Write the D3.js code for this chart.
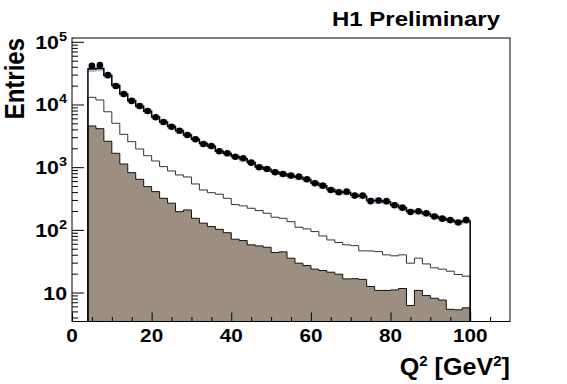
<!DOCTYPE html>
<html>
<head>
<meta charset="utf-8">
<script src="https://cdn.jsdelivr.net/npm/d3@7"></script>
<style>
  body { margin: 0; background: #fff; }
  text { font-family: "Liberation Sans", Arial, sans-serif; font-weight: bold; fill: #000; }
</style>
</head>
<body>
<div id="chart"></div>
<script>
// ---- data: Q2 histogram, 2 GeV2 bins from 4 to 100 ----
const binEdges = d3.range(4, 101, 2);

// data points (black dots)
const dataCounts = [41500, 42500, 29400, 19700, 14700, 11400, 9450, 7860, 6240, 5250, 4410, 3815,
  3260, 2790, 2345, 2180, 1790, 1665, 1470, 1385, 1180, 995, 935, 830,
  780, 733, 706, 641, 554, 507, 433, 398, 407, 352, 352, 287,
  293, 287, 247, 226, 193, 198, 184, 163, 151, 143, 131, 144];

// total MC (black line with light blue band)
const mcTotal = [36800, 37500, 29000, 20000, 14700, 11500, 9400, 7800, 6300, 5250, 4450, 3800,
  3250, 2800, 2380, 2150, 1800, 1650, 1480, 1360, 1190, 1010, 930, 840,
  775, 725, 690, 635, 560, 505, 440, 405, 395, 355, 345, 295,
  290, 280, 250, 225, 198, 195, 180, 165, 152, 142, 133, 138];
const mcRelErr = 0.1;

// middle component (thin line)
const mcMiddle = [13000, 11800, 7650, 5010, 3340, 2550, 1950, 1525, 1255, 1020, 870, 751,
  698, 540, 433, 392, 370, 319, 253, 241, 221, 203, 184, 159,
  153, 135, 110, 103.5, 93.8, 80, 69, 62.7, 57.6, 56, 46.2, 46,
  45, 39.9, 38.5, 39.9, 29.4, 35.3, 28.6, 24.8, 23.6, 21.9, 19.4, 18.2];

// filled component (brown)
const mcFilled = [4540, 4110, 2590, 1667, 1125, 817, 641, 489, 407, 319, 266, 195,
  208, 153, 128, 113, 102, 90, 71, 67.4, 57.6, 55.5, 52.8, 43.4,
  44.6, 35.3, 29.4, 26.9, 23.6, 22.4, 21.1, 19.6, 16.5, 16.6, 16.2, 12.5,
  10.8, 10.8, 11.0, 11.6, 6.2, 10.8, 8.95, 8.1, 7.6, 5.4, 5.3, 5.7];

const xMajorTicks = [0, 20, 40, 60, 80, 100];
const xMinorTicks = [5, 10, 15, 25, 30, 35, 45, 50, 55, 65, 70, 75, 85, 90, 95, 105];
const yDecades = [10, 100, 1000, 10000, 100000];
const yDecadeExp = [1, 2, 3, 4, 5];

// ---- layout ----
const svgWidth = 567;
const svgHeight = 384;
const margin = {top: 38, right: 57, bottom: 62.5, left: 72};
const chartWidth = svgWidth - margin.left - margin.right;
const chartHeight = svgHeight - margin.top - margin.bottom;
const stretch = 1.12; // the original fonts are a bit wider than tall

const svg = d3.select("#chart")
  .append("svg")
  .attr("width", svgWidth)
  .attr("height", svgHeight);

const chartGroup = svg.append("g")
  .attr("transform", `translate(${margin.left},${margin.top})`);

const xScale = d3.scaleLinear()
  .domain([0, 110])
  .range([0, chartWidth]);

const yScale = d3.scaleLog()
  .domain([3.45, 1.15e5])
  .range([chartHeight, 0]);

// histogram helpers: one point per bin plus the closing edge
function stepPoints(vals) {
  const pts = vals.map((v, i) => [binEdges[i], v]);
  pts.push([binEdges[binEdges.length - 1], vals[vals.length - 1]]);
  return pts;
}
const yMin = yScale.domain()[0];

const stepLine = d3.line()
  .x(d => xScale(d[0]))
  .y(d => yScale(d[1]))
  .curve(d3.curveStepAfter);

function closedStep(vals) {
  const pts = stepPoints(vals);
  return [[pts[0][0], yMin]].concat(pts, [[pts[pts.length - 1][0], yMin]]);
}

// filled brown component
const fillArea = d3.area()
  .x(d => xScale(d[0]))
  .y0(chartHeight)
  .y1(d => yScale(d[1]))
  .curve(d3.curveStepAfter);

chartGroup.append("path")
  .datum(stepPoints(mcFilled))
  .attr("d", fillArea)
  .attr("fill", "#9c8f82");

chartGroup.append("path")
  .datum(closedStep(mcFilled))
  .attr("d", stepLine)
  .attr("fill", "none")
  .attr("stroke", "#111")
  .attr("stroke-width", 1);

// middle component line
chartGroup.append("path")
  .datum(closedStep(mcMiddle))
  .attr("d", stepLine)
  .attr("fill", "none")
  .attr("stroke", "#333")
  .attr("stroke-width", 1);

// uncertainty band on total MC
const bandArea = d3.area()
  .x(d => xScale(d[0]))
  .y0(d => yScale(d[1] * (1 - mcRelErr)))
  .y1(d => yScale(d[1] * (1 + mcRelErr)))
  .curve(d3.curveStepAfter);

chartGroup.append("path")
  .datum(stepPoints(mcTotal))
  .attr("d", bandArea)
  .attr("fill", "#adc2d8");

chartGroup.append("path")
  .datum(closedStep(mcTotal))
  .attr("d", stepLine)
  .attr("fill", "none")
  .attr("stroke", "#000")
  .attr("stroke-width", 1.5);

// data points
chartGroup.append("g")
  .selectAll("circle")
  .data(dataCounts)
  .enter()
  .append("circle")
  .attr("cx", (d, i) => xScale((binEdges[i] + binEdges[i + 1]) / 2))
  .attr("cy", d => yScale(d))
  .attr("r", 3.3)
  .attr("fill", "#000");

// ---- frame and axes (ticks point inwards) ----
chartGroup.append("rect")
  .attr("width", chartWidth)
  .attr("height", chartHeight)
  .attr("fill", "none")
  .attr("stroke", "#000")
  .attr("stroke-width", 1);

function tickAxis(axis) {
  return g => {
    g.call(axis);
    g.select(".domain").remove();
    g.selectAll("text").remove();
    g.selectAll("line").attr("stroke", "#000");
  };
}

chartGroup.append("g")
  .attr("transform", `translate(0,${chartHeight})`)
  .call(tickAxis(d3.axisBottom(xScale).tickValues(xMajorTicks).tickSize(-9)));
chartGroup.append("g")
  .attr("transform", `translate(0,${chartHeight})`)
  .call(tickAxis(d3.axisBottom(xScale).tickValues(xMinorTicks).tickSize(-4.5)));

const yMinorTicks = [];
[1, 10, 100, 1000, 10000].forEach(dec => {
  for (let k = 2; k <= 9; k++) {
    const v = k * dec;
    if (v >= yScale.domain()[0] && v <= yScale.domain()[1]) yMinorTicks.push(v);
  }
});

chartGroup.append("g")
  .call(tickAxis(d3.axisLeft(yScale).tickValues(yDecades).tickSize(-12)));
chartGroup.append("g")
  .call(tickAxis(d3.axisLeft(yScale).tickValues(yMinorTicks).tickSize(-6)));

// x tick labels
chartGroup.append("g")
  .selectAll("text")
  .data(xMajorTicks)
  .enter()
  .append("text")
  .attr("transform", d => `translate(${xScale(d)},${chartHeight + 20.5}) scale(${stretch},1)`)
  .attr("text-anchor", "middle")
  .attr("font-size", "18.5px")
  .text(d => d);

// y tick labels: 10, 10^2 ... 10^5
const yLabels = chartGroup.append("g")
  .selectAll("text")
  .data(yDecades)
  .enter()
  .append("text")
  .attr("transform", d => `translate(-5,${yScale(d) + 7}) scale(${stretch},1)`)
  .attr("text-anchor", "end")
  .attr("font-size", "19px");

yLabels.append("tspan").text("10");
yLabels.filter((d, i) => yDecadeExp[i] > 1)
  .append("tspan")
  .attr("dy", -8)
  .attr("font-size", "13px")
  .text(d => yDecadeExp[yDecades.indexOf(d)]);

// axis titles
svg.append("text")
  .attr("transform", `translate(24,38) rotate(-90) scale(1,${stretch})`)
  .attr("text-anchor", "end")
  .attr("font-size", "24px")
  .text("Entries");

const xTitle = svg.append("text")
  .attr("transform", `translate(510,375) scale(1.07,1)`)
  .attr("text-anchor", "end")
  .attr("font-size", "23.5px");
xTitle.append("tspan").text("Q");
xTitle.append("tspan").attr("dy", -9).attr("font-size", "14px").text("2");
xTitle.append("tspan").attr("dy", 9).text(" [GeV");
xTitle.append("tspan").attr("dy", -9).attr("font-size", "14px").text("2");
xTitle.append("tspan").attr("dy", 9).text("]");

// H1 label
svg.append("text")
  .attr("x", 500)
  .attr("y", 26)
  .attr("text-anchor", "end")
  .attr("font-size", "21px")
  .attr("textLength", 168)
  .attr("lengthAdjust", "spacingAndGlyphs")
  .text("H1 Preliminary");
</script>
</body>
</html>
